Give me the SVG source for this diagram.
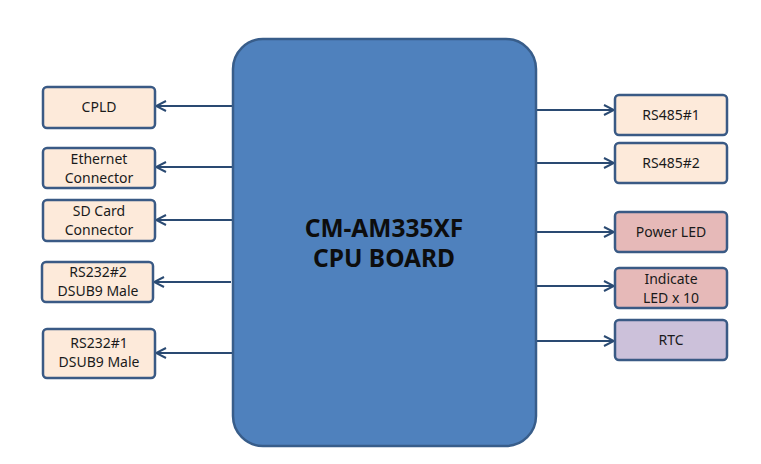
<svg xmlns="http://www.w3.org/2000/svg" width="761" height="464" viewBox="0 0 761 464">
<defs>
<style>
.box{stroke:#3A5A85;stroke-width:2.5}
.peach{fill:#FDEADA}
.red{fill:#E6B9B8}
.purple{fill:#CCC1DA}
.lbl{font-family:"Noto Sans","Open Sans","DejaVu Sans",sans-serif;font-size:14px;fill:#1a1a1a;text-anchor:middle}
.title{font-family:"Noto Sans","Open Sans","DejaVu Sans",sans-serif;font-size:24.5px;font-weight:bold;fill:#0d0d0d;text-anchor:middle}
.conn{stroke:#2A4A72;stroke-width:2;fill:none;marker-end:url(#arr)}
</style>
<marker id="arr" viewBox="0 0 12 12" refX="11" refY="6" markerWidth="12" markerHeight="12" markerUnits="userSpaceOnUse" orient="auto">
<path d="M1,1 L11,6 L1,11" fill="none" stroke="#2A4A72" stroke-width="2"/>
</marker>
</defs>
<rect width="761" height="464" fill="#ffffff"/>
<g id="connectors">
<line class="conn" x1="233" y1="106" x2="156" y2="106"/>
<line class="conn" x1="233" y1="167" x2="156" y2="167"/>
<line class="conn" x1="233" y1="220" x2="156" y2="220"/>
<line class="conn" x1="231" y1="282" x2="154" y2="282"/>
<line class="conn" x1="233" y1="353" x2="156" y2="353"/>
<line class="conn" x1="536" y1="110" x2="614" y2="110"/>
<line class="conn" x1="536" y1="163" x2="614" y2="163"/>
<line class="conn" x1="536" y1="232" x2="614" y2="232"/>
<line class="conn" x1="536" y1="286" x2="614" y2="286"/>
<line class="conn" x1="536" y1="341" x2="614" y2="341"/>
</g>
<g id="main">
<rect x="233" y="39" width="303" height="407" rx="30" ry="30" fill="#4F81BD" stroke="#385D8A" stroke-width="2.5"/>
<text class="title" x="384" y="237">CM-AM335XF</text>
<text class="title" x="384" y="267">CPU BOARD</text>
</g>
<g id="cpld">
<rect class="box peach" x="43" y="87" width="112" height="41" rx="4"/>
<text class="lbl" x="99" y="112">CPLD</text>
</g>
<g id="ethernet">
<rect class="box peach" x="43" y="148" width="112" height="40" rx="4"/>
<text class="lbl" x="99" y="163.5">Ethernet</text>
<text class="lbl" x="99" y="182.5">Connector</text>
</g>
<g id="sdcard">
<rect class="box peach" x="43" y="200" width="112" height="41" rx="4"/>
<text class="lbl" x="99" y="215.5">SD Card</text>
<text class="lbl" x="99" y="234.5">Connector</text>
</g>
<g id="rs232-2">
<rect class="box peach" x="42" y="262" width="111" height="40" rx="4"/>
<text class="lbl" x="98" y="277">RS232#2</text>
<text class="lbl" x="98" y="296">DSUB9 Male</text>
</g>
<g id="rs232-1">
<rect class="box peach" x="43" y="329" width="112" height="49" rx="4"/>
<text class="lbl" x="99" y="347.5">RS232#1</text>
<text class="lbl" x="99" y="366.5">DSUB9 Male</text>
</g>
<g id="rs485-1">
<rect class="box peach" x="615" y="95" width="112" height="40" rx="4"/>
<text class="lbl" x="671" y="120">RS485#1</text>
</g>
<g id="rs485-2">
<rect class="box peach" x="615" y="143" width="112" height="40" rx="4"/>
<text class="lbl" x="671" y="168">RS485#2</text>
</g>
<g id="powerled">
<rect class="box red" x="615" y="212" width="112" height="40" rx="4"/>
<text class="lbl" x="671" y="237">Power LED</text>
</g>
<g id="indicate">
<rect class="box red" x="615" y="268" width="112" height="40" rx="4"/>
<text class="lbl" x="671" y="283.5">Indicate</text>
<text class="lbl" x="671" y="302.5">LED x 10</text>
</g>
<g id="rtc">
<rect class="box purple" x="615" y="320" width="112" height="40" rx="4"/>
<text class="lbl" x="671" y="345">RTC</text>
</g>
</svg>
